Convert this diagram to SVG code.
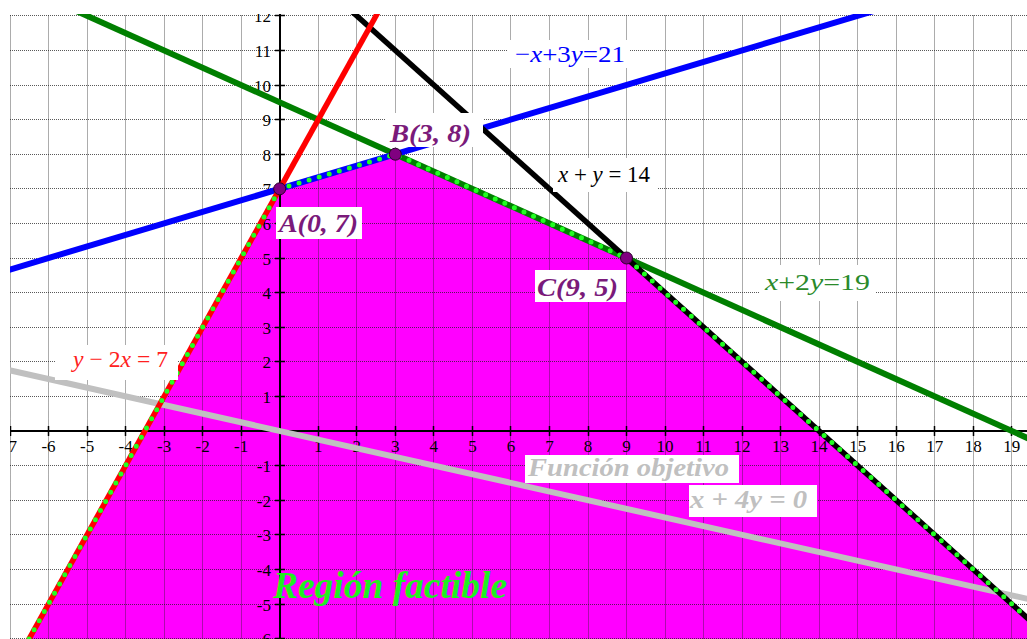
<svg xmlns="http://www.w3.org/2000/svg" width="1027" height="639" viewBox="0 0 1027 639">
<style>
.grid{fill:none;stroke:#222;stroke-width:1;stroke-dasharray:1 1;opacity:0.75}
.axis{fill:none;stroke:#000;stroke-width:2}
.tick{fill:none;stroke:#000;stroke-width:1.5}
.num{font-family:"Liberation Serif","Times New Roman",serif;font-size:17px;fill:#000}
.ln{fill:none;stroke-linecap:butt}
.pt{fill:#800080;stroke:#2a002a;stroke-width:1}
.box{fill:#fff}
.pl{font-family:"Liberation Serif","Times New Roman",serif;font-weight:bold;font-style:italic;font-size:26px;fill:#7a1a7a}
.eq{font-family:"Liberation Serif","Times New Roman",serif;font-size:24px}
.it{font-style:italic}
.obj{font-family:"Liberation Serif","Times New Roman",serif;font-weight:bold;font-style:italic;font-size:25px;fill:#c0c0c0}
</style>
<defs>
<clipPath id="plot"><rect x="10" y="14" width="1017" height="625"/></clipPath>
</defs>
<rect width="1027" height="639" fill="#fff"/>
<g clip-path="url(#plot)">
<g id="region">
<polygon points="29,639 279.7,188.8 395.3,154.2 626.5,258 1027,617.7 1027,639" fill="#ff00ff"/>
</g>
<g id="grid">
<path class="grid" d="M10.5,15.5V639M48.5,15.5V639M87.5,15.5V639M125.5,15.5V639M164.5,15.5V639M202.5,15.5V639M241.5,15.5V639M318.5,15.5V639M356.5,15.5V639M395.5,15.5V639M433.5,15.5V639M472.5,15.5V639M510.5,15.5V639M549.5,15.5V639M588.5,15.5V639M626.5,15.5V639M665.5,15.5V639M703.5,15.5V639M742.5,15.5V639M780.5,15.5V639M819.5,15.5V639M857.5,15.5V639M896.5,15.5V639M934.5,15.5V639M973.5,15.5V639M1011.5,15.5V639
M10,15.5H1027M10,50.5H1027M10,85.5H1027M10,119.5H1027M10,154.5H1027M10,188.5H1027M10,223.5H1027M10,258.5H1027M10,292.5H1027M10,327.5H1027M10,361.5H1027M10,396.5H1027M10,465.5H1027M10,500.5H1027M10,534.5H1027M10,569.5H1027M10,604.5H1027M10,638.5H1027"/>
</g>
<g id="axes">
<path class="axis" d="M10,431H1027M280,14V639"/>
<path class="tick" d="M275,15.5h10M275,50.5h10M275,85.5h10M275,119.5h10M275,154.5h10M275,188.5h10M275,223.5h10M275,258.5h10M275,292.5h10M275,327.5h10M275,361.5h10M275,396.5h10M275,465.5h10M275,500.5h10M275,534.5h10M275,569.5h10M275,604.5h10M275,638.5h10
M10.5,426v10M48.5,426v10M87.5,426v10M125.5,426v10M164.5,426v10M202.5,426v10M241.5,426v10M318.5,426v10M356.5,426v10M395.5,426v10M433.5,426v10M472.5,426v10M510.5,426v10M549.5,426v10M588.5,426v10M626.5,426v10M665.5,426v10M703.5,426v10M742.5,426v10M780.5,426v10M819.5,426v10M857.5,426v10M896.5,426v10M934.5,426v10M973.5,426v10M1011.5,426v10"/>
<g class="num" text-anchor="end">
<text x="271" y="22.3">12</text><text x="271" y="56.9">11</text><text x="271" y="91.5">10</text><text x="271" y="126.1">9</text><text x="271" y="160.7">8</text><text x="271" y="195.3">7</text><text x="271" y="229.9">6</text><text x="271" y="264.5">5</text><text x="271" y="299.1">4</text><text x="271" y="333.7">3</text><text x="271" y="368.3">2</text><text x="271" y="402.9">1</text><text x="271" y="472.1">-1</text><text x="271" y="506.7">-2</text><text x="271" y="541.3">-3</text><text x="271" y="575.9">-4</text><text x="271" y="610.5">-5</text><text x="271" y="645.1">-6</text>
</g>
<g class="num" text-anchor="middle">
<text x="10" y="452">-7</text><text x="48.5" y="452">-6</text><text x="87.1" y="452">-5</text><text x="125.6" y="452">-4</text><text x="164.1" y="452">-3</text><text x="202.6" y="452">-2</text><text x="241.2" y="452">-1</text><text x="318.2" y="452">1</text><text x="356.8" y="452">2</text><text x="395.3" y="452">3</text><text x="433.8" y="452">4</text><text x="472.4" y="452">5</text><text x="510.9" y="452">6</text><text x="549.4" y="452">7</text><text x="588" y="452">8</text><text x="626.5" y="452">9</text><text x="665" y="452">10</text><text x="703.5" y="452">11</text><text x="742.1" y="452">12</text><text x="780.6" y="452">13</text><text x="819.1" y="452">14</text><text x="857.7" y="452">15</text><text x="896.2" y="452">16</text><text x="934.7" y="452">17</text><text x="973.2" y="452">18</text><text x="1011.8" y="452">19</text>
</g>
</g>
<g id="connectors">
<line id="objective" class="ln" x1="-9.3" y1="366.1" x2="1050.3" y2="604" stroke="#c0c0c0" stroke-width="6"/>
<line id="line-green" class="ln" x1="48.5" y1="-1.5" x2="1050.3" y2="448.3" stroke="#007f00" stroke-width="6"/>
<line id="line-blue" class="ln" x1="-9.3" y1="275.3" x2="896.2" y2="4.3" stroke="#0000ff" stroke-width="6"/>
<line id="line-black" class="ln" x1="337.5" y1="-1.5" x2="1088.8" y2="673.2" stroke="#000" stroke-width="5.5"/>
<line id="line-red" class="ln" x1="10" y1="673.2" x2="395.3" y2="-18.8" stroke="#ff0000" stroke-width="5.5"/>
<path id="boundary" d="M29,639L279.7,188.8L395.3,154.2L626.5,258L1027,617.7" fill="none" stroke="#22ff22" stroke-width="5" stroke-linecap="round" stroke-dasharray="0 10.5"/>
</g>
</g>
<g id="label-eq-blue">
<rect class="box" x="508" y="40" width="122" height="28"/>
<text class="eq" x="515" y="62" fill="#0000ff" textLength="110" lengthAdjust="spacingAndGlyphs">−<tspan class="it">x</tspan>+3<tspan class="it">y</tspan>=21</text>
</g>
<g id="label-eq-black">
<rect class="box" x="553" y="158" width="104" height="34"/>
<text class="eq" x="558" y="182" fill="#000" font-size="22" textLength="92" lengthAdjust="spacingAndGlyphs"><tspan class="it">x</tspan> + <tspan class="it">y</tspan> = 14</text>
</g>
<g id="label-eq-green">
<rect class="box" x="760" y="265" width="116" height="36"/>
<text class="eq" x="765" y="290" fill="#2a8a2a" textLength="105" lengthAdjust="spacingAndGlyphs"><tspan class="it">x</tspan>+2<tspan class="it">y</tspan>=19</text>
</g>
<g id="label-eq-red">
<rect class="box" x="55" y="345" width="123" height="35"/>
<text class="eq" x="73" y="367" fill="#ff2020" font-size="22" textLength="95" lengthAdjust="spacingAndGlyphs"><tspan class="it">y</tspan> − 2<tspan class="it">x</tspan> = 7</text>
</g>
<g id="label-objective">
<rect class="box" x="525" y="455" width="214" height="28"/>
<text class="obj" x="528" y="476" font-size="24" textLength="201" lengthAdjust="spacingAndGlyphs">Función objetivo</text>
<rect class="box" x="689" y="485" width="128" height="32"/>
<text class="obj" x="690" y="508" textLength="117" lengthAdjust="spacingAndGlyphs">x + 4y = 0</text>
</g>
<g id="point-A">
<circle class="pt" cx="279.7" cy="188.8" r="6"/>
<rect class="box" x="276" y="207" width="86" height="32"/>
<text class="pl" x="279" y="232" textLength="79" lengthAdjust="spacingAndGlyphs">A(0, 7)</text>
</g>
<g id="point-B">
<rect class="box" x="386" y="113" width="97" height="34"/>
<circle class="pt" cx="395.3" cy="154.2" r="6"/>
<text class="pl" x="390" y="142" textLength="81" lengthAdjust="spacingAndGlyphs">B(3, 8)</text>
</g>
<g id="point-C">
<circle class="pt" cx="626.5" cy="258" r="6"/>
<rect class="box" x="535" y="270" width="91" height="32"/>
<text class="pl" x="537" y="296" textLength="81" lengthAdjust="spacingAndGlyphs">C(9, 5)</text>
</g>
<g id="label-region">
<text x="273" y="598" font-family="Liberation Serif, Times New Roman, serif" font-weight="bold" font-style="italic" font-size="37" fill="#22ee22" textLength="234" lengthAdjust="spacingAndGlyphs">Región factible</text>
</g>
</svg>
